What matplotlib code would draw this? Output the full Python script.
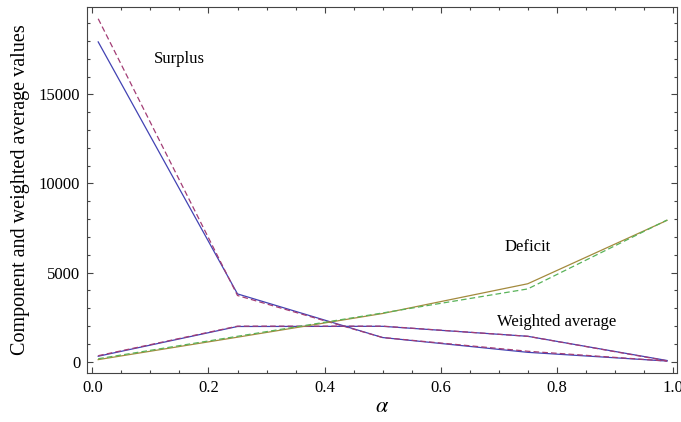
import matplotlib
matplotlib.use('Agg')
import matplotlib.pyplot as plt
from matplotlib.ticker import MultipleLocator

# alpha values
alpha = [0.01, 0.25, 0.5, 0.75, 0.99]

# surplus component
surplus_a = [17950, 3800, 1350, 520, 30]
surplus_b = [19250, 3710, 1350, 580, 30]

# weighted average
wavg_a = [300, 1970, 1980, 1420, 60]
wavg_b = [330, 1990, 1990, 1420, 40]

# deficit component
deficit_a = [110, 1370, 2700, 4370, 7930]
deficit_b = [160, 1420, 2730, 4080, 7950]

blue = (0.26, 0.26, 0.70)
purple = (0.64, 0.24, 0.46)
olive = (0.64, 0.54, 0.24)
green = (0.35, 0.70, 0.35)


def main():
    plt.rcParams['font.family'] = ['Liberation Serif', 'DejaVu Serif']
    plt.rcParams['mathtext.fontset'] = 'stix'

    fig = plt.figure(figsize=(6.81, 4.22), dpi=100)
    ax = fig.add_axes([0.128, 0.117, 0.866, 0.866])

    lw = 0.9
    dash = (0, (4.5, 2.5))
    ax.plot(alpha, surplus_a, color=blue, lw=lw)
    ax.plot(alpha, surplus_b, color=purple, lw=lw, linestyle=dash)
    ax.plot(alpha, wavg_a, color=blue, lw=lw)
    ax.plot(alpha, wavg_b, color=purple, lw=lw, linestyle=dash)
    ax.plot(alpha, deficit_a, color=olive, lw=lw)
    ax.plot(alpha, deficit_b, color=green, lw=lw, linestyle=dash)

    # ラベル
    ax.text(0.15, 17000, "Surplus", fontsize=12, ha="center", va="center")
    ax.text(0.75, 6460, "Deficit", fontsize=12, ha="center", va="center")
    ax.text(0.80, 2250, "Weighted average", fontsize=12, ha="center", va="center")

    ax.set_xlim(-0.009, 1.007)
    ax.set_ylim(-620, 19900)

    ax.xaxis.set_major_locator(MultipleLocator(0.2))
    ax.xaxis.set_minor_locator(MultipleLocator(0.05))
    ax.yaxis.set_major_locator(MultipleLocator(5000))
    ax.yaxis.set_minor_locator(MultipleLocator(1000))
    ax.xaxis.set_major_formatter(plt.FuncFormatter(lambda v, p: f"{v:.1f}"))
    ax.yaxis.set_major_formatter(plt.FuncFormatter(lambda v, p: f"{int(round(v))}"))

    ax.tick_params(which="both", direction="in", top=True, right=True,
                   color="#444444", labelsize=12, width=0.8)
    ax.tick_params(which="major", length=4.5, pad=5)
    ax.tick_params(which="minor", length=2.5)
    for s in ax.spines.values():
        s.set_color("#444444")
        s.set_linewidth(0.8)

    ax.set_xlabel(r"$\alpha$", fontsize=16, labelpad=2)
    ax.set_ylabel("Component and weighted average values", fontsize=14.5, labelpad=6)

    fig.savefig("out.png", dpi=100)


if __name__ == "__main__":
    main()
